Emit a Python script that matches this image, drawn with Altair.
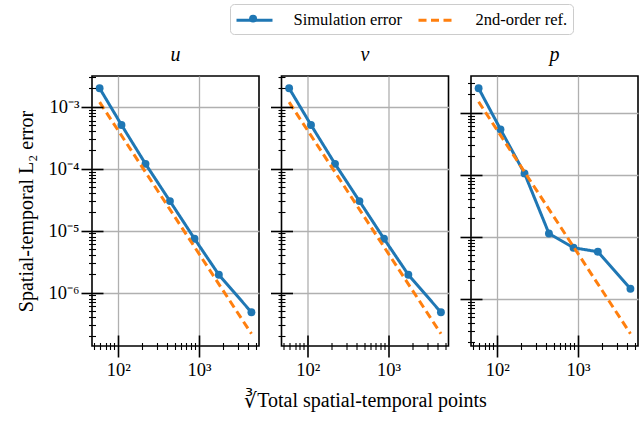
import altair as alt
import pandas as pd

# ---------------- data ----------------
series_names = ["Simulation error", "2nd-order ref."]
panel_titles = ["u", "v", "p"]
x_points = [59, 110, 218, 437, 880, 1760, 4450]
err_u = [2.0e-3, 5.1e-4, 1.2e-4, 3.0e-5, 7.4e-6, 1.94e-6, 4.8e-7]
err_v = [2.0e-3, 5.1e-4, 1.2e-4, 3.0e-5, 7.4e-6, 1.94e-6, 4.8e-7]
err_p = [2.48e-3, 5.4e-4, 1.05e-4, 1.13e-5, 6.65e-6, 5.73e-6, 1.45e-6]
ref_x = [59, 4450]
ref_u = [1.19e-3, 2.16e-7]
ref_v = [1.19e-3, 2.16e-7]
ref_p = [1.5e-3, 2.73e-7]

x_domain = [47.5, 5520]
y_domain_uv = [1.37e-7, 3.15e-3]
y_domain_p = [1.73e-7, 3.91e-3]

x_major_ticks = [100, 1000]
x_major_labels = ["10²", "10³"]
y_major_ticks = [1e-6, 1e-5, 1e-4, 1e-3]
y_major_labels = ["10⁻⁶", "10⁻⁵", "10⁻⁴", "10⁻³"]

x_title = "∛Total spatial-temporal points"
y_title = "Spatial-temporal L₂ error"

# ---------------- styling ----------------
FONT = "Liberation Serif"
BLUE = "#1f77b4"
ORANGE = "#ff7f0e"
W, H = 167, 270
LX, LY = 138, -72        # legend position (relative to first plot's top-left)
LPAD = 5                 # legend padding
SYM_W = 19               # legend symbol box (sqrt of symbol size)
LINE_HALF = 18           # half length of the legend line sample


def minor_ticks(lo, hi):
    out = []
    for e in range(-9, 5):
        for m in range(2, 10):
            v = float(f"{m}e{e}")
            if lo <= v <= hi:
                out.append(v)
    return out


def label_expr(vals, labels):
    return "".join(f"datum.value == {v!r} ? '{l}' : " for v, l in zip(vals, labels)) + "''"


a = LINE_HALF / (SYM_W / 2)
line_path = f"M-{a:.4f},0L{a:.4f},0"

LEGEND = alt.Legend(
    title=None, orient="none", legendX=LX, legendY=LY,
    direction="horizontal", columns=2,
    labelFont=FONT, labelFontSize=16.5, labelColor="black",
    symbolType=line_path, symbolSize=SYM_W * SYM_W, symbolStrokeWidth=3,
    symbolOffset=LINE_HALF - SYM_W / 2,
    labelOffset=2 * LINE_HALF - SYM_W + 11,
    strokeColor="#cccccc", fillColor="white", cornerRadius=4, padding=LPAD,
    columnPadding=9, zindex=1,
)
MARK_SIZE = 62
mr = MARK_SIZE ** 0.5 / 2
MARKER_LEGEND = alt.Legend(
    title=None, orient="none",
    legendX=LX + LPAD + LINE_HALF - mr, legendY=LY + LPAD + SYM_W / 2 - mr,
    labelOpacity=0, labelFontSize=1, labelOffset=0, padding=0,
    symbolType="circle", symbolSize=MARK_SIZE, symbolFillColor=BLUE, symbolStrokeColor=BLUE,
    symbolStrokeWidth=0, symbolOpacity=1, zindex=2,
)


def panel(idx, errs, refs, ydom):
    sim = pd.DataFrame({"x": x_points, "err": errs, "series": series_names[0]})
    ref = pd.DataFrame({"x": ref_x, "err": refs, "series": series_names[1]})
    xs = alt.Scale(type="log", domain=x_domain, nice=False)
    ys = alt.Scale(type="log", domain=ydom, nice=False)
    color = alt.Color("series:N", scale=alt.Scale(domain=series_names, range=[BLUE, ORANGE]),
                      legend=LEGEND)
    dash = alt.StrokeDash("series:N",
                          scale=alt.Scale(domain=series_names, range=[[1, 0], [8, 4.5]]),
                          legend=LEGEND)

    first = idx == 0
    middle = idx == 1

    gx = alt.Axis(orient="bottom", values=x_major_ticks, grid=True, ticks=False, labels=False,
                  domain=False, title=None, gridColor="#b0b0b0", gridWidth=1.3, zindex=0)
    gy = alt.Axis(orient="left", values=y_major_ticks, grid=True, ticks=False, labels=False,
                  domain=False, title=None, gridColor="#b0b0b0", gridWidth=1.3, zindex=0)
    mx = alt.Axis(orient="bottom", values=x_major_ticks, grid=False, domain=False,
                  offset=-11, tickSize=22, tickWidth=1.6, tickColor="black",
                  labelExpr=label_expr(x_major_ticks, x_major_labels), labelFont=FONT,
                  labelFontSize=18.5, labelColor="black", labelPadding=3,
                  title=x_title if middle else None, titleFont=FONT, titleFontSize=20,
                  titleFontWeight="normal", titleColor="black", titlePadding=12, zindex=1)
    my = alt.Axis(orient="left", values=y_major_ticks, grid=False, domain=False,
                  offset=-11, tickSize=22, tickWidth=1.6, tickColor="black",
                  labels=first,
                  labelExpr=label_expr(y_major_ticks, y_major_labels), labelFont=FONT,
                  labelFontSize=18.5, labelColor="black", labelPadding=2,
                  title=y_title if first else None, titleFont=FONT, titleFontSize=20,
                  titleFontWeight="normal", titleColor="black", titlePadding=12, zindex=1)
    nx = alt.Axis(orient="bottom", values=minor_ticks(*x_domain), grid=False, domain=False,
                  labels=False, offset=-3.5, tickSize=7, tickWidth=1.1, tickColor="black",
                  title=None, zindex=1)
    ny = alt.Axis(orient="left", values=minor_ticks(*ydom), grid=False, domain=False,
                  labels=False, offset=-3.5, tickSize=7, tickWidth=1.1, tickColor="black",
                  title=None, zindex=1)

    sim_line = alt.Chart(sim).mark_line(strokeWidth=3).encode(
        x=alt.X("x:Q", scale=xs, axis=gx),
        y=alt.Y("err:Q", scale=ys, axis=gy),
        color=color, strokeDash=dash,
    )
    sim_pts = alt.Chart(sim).mark_point(filled=True, size=MARK_SIZE, opacity=1,
                                        color=BLUE).encode(
        x=alt.X("x:Q", scale=xs, axis=mx),
        y=alt.Y("err:Q", scale=ys, axis=my),
        shape=alt.Shape("series:N", scale=alt.Scale(domain=[series_names[0]], range=["circle"]),
                        legend=MARKER_LEGEND),
    )
    ref_line = alt.Chart(ref).mark_line(strokeWidth=3).encode(
        x=alt.X("x:Q", scale=xs, axis=nx),
        y=alt.Y("err:Q", scale=ys, axis=ny),
        color=color, strokeDash=dash,
    )
    return alt.layer(sim_line, sim_pts, ref_line).resolve_axis(
        x="independent", y="independent"
    ).properties(
        width=W, height=H,
        title=alt.TitleParams(panel_titles[idx], font=FONT, fontSize=20, fontStyle="italic",
                              fontWeight="normal", color="black", baseline="alphabetic",
                              offset=14, dy=19, anchor="middle"),
    )


chart = alt.hconcat(
    panel(0, err_u, ref_u, y_domain_uv),
    panel(1, err_v, ref_v, y_domain_uv),
    panel(2, err_p, ref_p, y_domain_p),
    spacing=22.5, bounds="flush",
).properties(
    padding={"left": 15, "top": 3, "right": 0, "bottom": 5},
    background="white",
).configure_view(
    stroke="black", strokeWidth=1.6,
)

chart.save("out.html", embed_options={"renderer": "svg", "actions": False})
